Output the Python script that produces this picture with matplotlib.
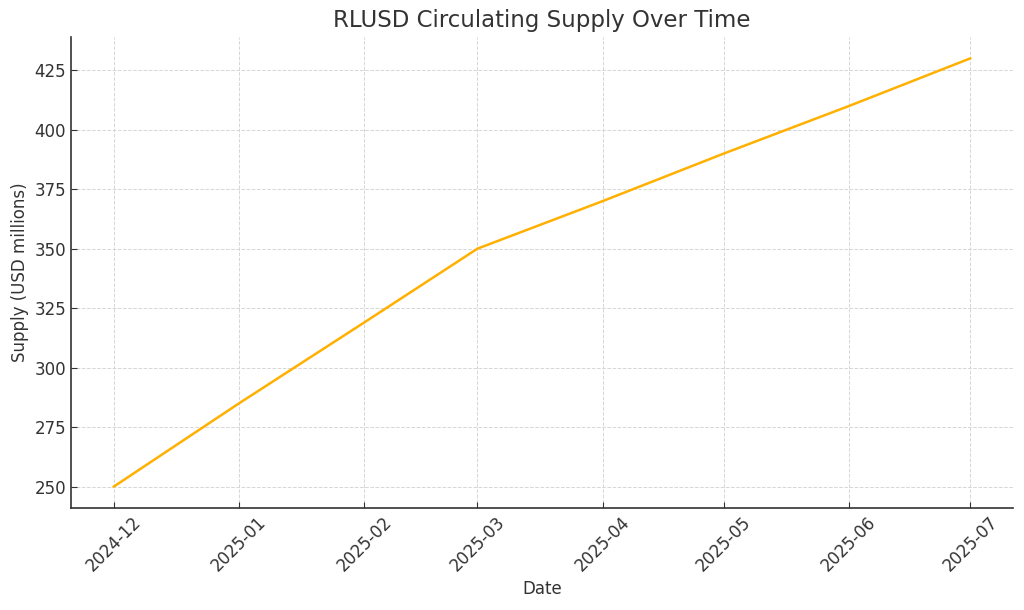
import matplotlib
matplotlib.use("Agg")
import matplotlib.pyplot as plt
import matplotlib.dates as mdates
import pandas as pd

dates = ["2024-12-01", "2025-01-01", "2025-02-01", "2025-03-01",
         "2025-04-01", "2025-05-01", "2025-06-01", "2025-07-01"]
supply = [250, 285, 319, 350, 370, 390, 410, 430]

title = "RLUSD Circulating Supply Over Time"
xlabel = "Date"
ylabel = "Supply (USD millions)"

text_color = "#333333"
line_color = "#FFB000"

x = pd.to_datetime(dates)

fig = plt.figure(figsize=(10.24, 6.10), dpi=100)
ax = fig.add_axes([71/1024, 1 - 508/610, (1013-71)/1024, (508-37)/610])

ax.plot(x, supply, color=line_color, linewidth=1.8)

ax.set_title(title, fontsize=16.5, color=text_color, pad=7)
ax.set_xlabel(xlabel, fontsize=12, color=text_color)
ax.set_ylabel(ylabel, fontsize=12, color=text_color)

ax.xaxis.set_major_locator(mdates.MonthLocator())
ax.xaxis.set_major_formatter(mdates.DateFormatter("%Y-%m"))
ax.set_yticks([250, 275, 300, 325, 350, 375, 400, 425])

ax.tick_params(axis="both", direction="in", labelsize=12, colors=text_color, length=4)
plt.setp(ax.get_xticklabels(), rotation=45, ha="center")

ax.grid(True, linestyle="--", color="#d6d6d6", linewidth=0.7)
ax.set_axisbelow(True)
for s in ["top", "right"]:
    ax.spines[s].set_visible(False)
for s in ["left", "bottom"]:
    ax.spines[s].set_color(text_color)
    ax.spines[s].set_linewidth(1.2)

fig.savefig("out.png", dpi=100)
